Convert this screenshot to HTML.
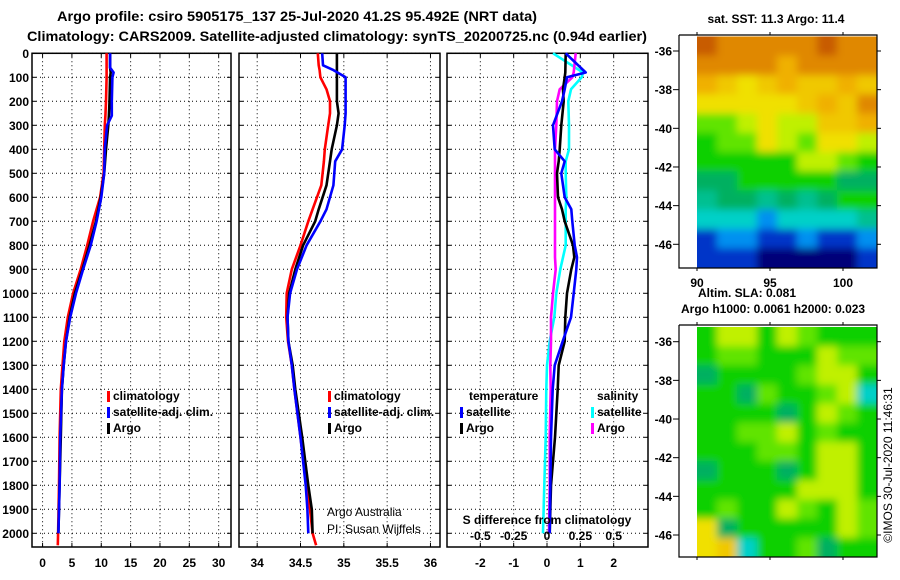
<!DOCTYPE html>
<html><head><meta charset="utf-8">
<style>
html,body{margin:0;padding:0;background:#fff;}
svg{display:block;font-family:"Liberation Sans",Arial,sans-serif;}
.b{font-weight:bold;font-size:12px;}
</style></head>
<body>
<svg id="chart" width="900" height="580" viewBox="0 0 900 580" xmlns="http://www.w3.org/2000/svg">
<defs>
<clipPath id="clipSst"><rect x="697" y="36.5" width="180" height="231"/></clipPath>
<clipPath id="clipSla"><rect x="697" y="327" width="180" height="230"/></clipPath>
<filter id="soft" x="0" y="0" width="1" height="1"><feGaussianBlur stdDeviation="4"/></filter>
</defs>
<text x="297" y="21" text-anchor="middle" font-weight="bold" font-size="14" textLength="480" lengthAdjust="spacingAndGlyphs">Argo profile: csiro 5905175_137 25-Jul-2020 41.2S 95.492E (NRT data)</text>
<text x="337" y="41" text-anchor="middle" font-weight="bold" font-size="14" textLength="620" lengthAdjust="spacingAndGlyphs">Climatology: CARS2009. Satellite-adjusted climatology: synTS_20200725.nc (0.94d earlier)</text>
<g id="plots"></g>
<g id="maps"></g>
<text x="776" y="23" text-anchor="middle" class="b">sat. SST: 11.3  Argo: 11.4</text>
<text x="698" y="297" class="b">Altim. SLA: 0.081</text>
<text x="681" y="313" class="b">Argo h1000: 0.0061 h2000: 0.023</text>
<text transform="translate(892,465) rotate(-90)" text-anchor="middle" font-size="12">©IMOS 30-Jul-2020 11:46:31</text>
</svg>
<script>
// ---------- data ----------
const depthT = [0,60,80,100,200,260,300,400,500,600,700,800,900,1000,1100,1200,1300,1400,1600,1800,2000,2050];
const tempClim = [10.9,10.9,10.9,10.9,10.8,10.7,10.6,10.5,10.4,9.8,8.6,7.6,6.5,5.2,4.3,3.7,3.4,3.1,2.9,2.8,2.65,2.6];
const tempSat  = [11.5,11.5,12.1,11.9,11.8,11.8,11.0,10.6,10.5,10.0,9.2,8.2,6.9,5.7,4.7,4.0,3.6,3.3,3.0,2.9,2.7,null];
const tempArgo = [11.5,11.5,11.6,11.5,11.4,11.3,11.2,10.8,10.5,9.9,9.1,8.0,6.8,5.5,4.6,4.0,3.6,3.3,3.1,2.9,2.7,null];

const depthS = [0,50,70,100,150,200,250,300,400,450,550,650,700,800,900,1000,1100,1200,1300,1400,1600,1800,1900,2000,2050];
const salClim = [34.70,34.71,34.72,34.73,34.80,34.84,34.84,34.82,34.78,34.77,34.74,34.64,34.59,34.50,34.40,34.34,34.335,34.355,34.40,34.43,34.50,34.57,34.61,34.64,34.68];
const salSat  = [34.75,34.76,34.88,35.02,35.02,35.02,35.02,35.01,34.98,34.90,34.88,34.80,34.73,34.57,34.46,34.38,34.35,34.36,34.40,34.43,34.50,34.56,34.58,34.59,null];
const salArgo = [34.92,34.92,34.92,34.92,34.92,34.92,34.94,34.92,34.86,34.84,34.80,34.71,34.67,34.53,34.44,34.37,34.35,34.36,34.41,34.44,34.52,34.59,34.63,34.64,null];

const depthD = [0,80,100,150,200,300,400,450,500,600,650,700,800,850,900,1000,1100,1200,1300,1400,1600,1800,2000];
const dTsat  = [0.56,1.16,0.60,0.53,0.45,0.18,0.23,0.53,0.43,0.53,0.73,0.76,0.83,0.90,0.88,0.80,0.72,0.47,0.23,0.17,0.12,0.10,0.08];
const dTargo = [0.56,0.55,0.53,0.48,0.50,0.43,0.38,0.35,0.30,0.33,0.45,0.53,0.78,0.82,0.73,0.60,0.55,0.53,0.35,0.32,0.24,0.12,0.08];
const dSsat  = [0.045,0.27,0.26,0.18,0.16,0.165,0.165,0.14,0.14,0.145,0.14,0.14,0.14,0.12,0.10,0.07,0.055,0.02,0.0,-0.005,-0.01,-0.02,-0.03];
const dSargo = [0.215,0.20,0.19,0.095,0.075,0.07,0.06,0.06,0.06,0.06,0.06,0.06,0.06,0.06,0.065,0.045,0.03,0.03,0.025,0.028,0.02,0.02,0.015];

const depthTicks = [0,100,200,300,400,500,600,700,800,900,1000,1100,1200,1300,1400,1500,1600,1700,1800,1900,2000];
const tTicks = [0,5,10,15,20,25,30];
const sTicks = [34,34.5,35,35.5,36];
const dTicks = [-2,-1,0,1,2];
const sDiffTicks = [-0.5,-0.25,0,0.25,0.5];

// ---------- helpers ----------
const NS = 'http://www.w3.org/2000/svg';
const plots = document.getElementById('plots');
function mk(tag, attrs, parent){const e=document.createElementNS(NS,tag);for(const k in attrs)e.setAttribute(k,attrs[k]);(parent||plots).appendChild(e);return e;}
const Y0=53.3, YB=547;
function yD(d){return Y0 + d*0.24;}

const panels = [
  {name:'temperature', x0:32, x1:231, vmin:-1.8, vmax:32.1, ticks:tTicks},
  {name:'salinity', x0:239, x1:440, vmin:33.79, vmax:36.11, ticks:sTicks},
  {name:'difference', x0:447, x1:648, vmin:-3.0, vmax:3.03, ticks:dTicks}
];
panels.forEach(p=>{ p.x = v => p.x0 + (v-p.vmin)/(p.vmax-p.vmin)*(p.x1-p.x0); });

panels.forEach((p,i)=>{
  const g = mk('g',{});
  
  
  depthTicks.forEach(d=>{
    const l=mk('line',{x1:p.x0,x2:p.x1,y1:yD(d),y2:yD(d),stroke:'#000','stroke-width':1,'stroke-dasharray':'1,3'},g);
    
    
    mk('line',{x1:p.x0,x2:p.x0+4,y1:yD(d),y2:yD(d),stroke:'#000'},g);
    mk('line',{x1:p.x1-4,x2:p.x1,y1:yD(d),y2:yD(d),stroke:'#000'},g);
  });
  p.ticks.forEach(v=>{
    const x=p.x(v);
    const l=mk('line',{x1:x,x2:x,y1:Y0,y2:YB,stroke:'#000','stroke-width':1,'stroke-dasharray':'1,3'},g);
    
    
    mk('line',{x1:x,x2:x,y1:Y0,y2:Y0+4,stroke:'#000'},g);
    mk('line',{x1:x,x2:x,y1:YB-4,y2:YB,stroke:'#000'},g);
    const t=mk('text',{x:x,y:567,'text-anchor':'middle','class':'b'},g);
    t.textContent=String(v);
    
    
  });
  const fr=mk('rect',{x:p.x0,y:Y0,width:p.x1-p.x0,height:YB-Y0,fill:'none',stroke:'#000','stroke-width':1.5},g);
  
  
});
depthTicks.forEach(d=>{
  const t=mk('text',{x:29,y:yD(d)+4.5,'text-anchor':'end','class':'b'});
  t.textContent=String(d);
  
  
});

function series(p, depths, vals, color, name, scale){
  let dstr='', started=false;
  depths.forEach((d,i)=>{
    const v=vals[i];
    if(v===null||v===undefined){return;}
    const x=p.x(v*(scale||1)), y=yD(d);
    dstr += (started?'L':'M')+x.toFixed(1)+','+y.toFixed(1);
    started=true;
  });
  const e=mk('path',{d:dstr,fill:'none',stroke:color,'stroke-width':2.6,'stroke-linejoin':'round'});
  
  
}
const P1=panels[0],P2=panels[1],P3=panels[2];
series(P1,depthT,tempClim,'#ff0000','temp-climatology-line');
series(P1,depthT,tempArgo,'#000000','temp-argo-line');
series(P1,depthT,tempSat,'#0000ff','temp-satellite-line');
series(P2,depthS,salClim,'#ff0000','sal-climatology-line');
series(P2,depthS,salArgo,'#000000','sal-argo-line');
series(P2,depthS,salSat,'#0000ff','sal-satellite-line');
series(P3,depthD,dSsat,'#00ffff','sdiff-satellite-line',4);
series(P3,depthD,dSargo,'#ff00ff','sdiff-argo-line',4);
series(P3,depthD,dTargo,'#000000','tdiff-argo-line');
series(P3,depthD,dTsat,'#0000ff','tdiff-satellite-line');

function legend(x,y,color,label,name){
  const g=mk('g',{});
  
  
  if(color) mk('rect',{x:x,y:y-9,width:3,height:11,fill:color},g);
  const t=mk('text',{x:x+6,y:y,'class':'b'},g);
  t.textContent=label;
}
legend(107,400,'#ff0000','climatology','legend-climatology-1');
legend(107,416,'#0000ff','satellite-adj. clim.','legend-satellite-1');
legend(107,432,'#000000','Argo','legend-argo-1');
legend(328,400,'#ff0000','climatology','legend-climatology-2');
legend(328,416,'#0000ff','satellite-adj. clim.','legend-satellite-2');
legend(328,432,'#000000','Argo','legend-argo-2');
legend(463,400,null,'temperature','legend-temperature-header');
legend(460,416,'#0000ff','satellite','legend-temp-satellite');
legend(460,432,'#000000','Argo','legend-temp-argo');
legend(591,400,null,'salinity','legend-salinity-header');
legend(591,416,'#00ffff','satellite','legend-sal-satellite');
legend(591,432,'#ff00ff','Argo','legend-sal-argo');
{
 const a=mk('text',{x:327,y:516,'font-size':12}); a.textContent='Argo Australia';
  
 const b=mk('text',{x:327,y:533,'font-size':12}); b.textContent='PI: Susan Wijffels';
  
 const c=mk('text',{x:547,y:524,'text-anchor':'middle','class':'b'}); c.textContent='S difference from climatology';
  
 sDiffTicks.forEach(v=>{
   const t=mk('text',{x:P3.x(v*4),y:540,'text-anchor':'middle','class':'b'}); t.textContent=String(v);
    
 });
}

// ---------- maps ----------
const maps=document.getElementById('maps');
const pal={n:'#000078',b:'#0034c8',l:'#0090f0',c:'#00d0c8',t:'#00b060',g:'#10d000',h:'#60e400',y:'#c0f000',Y:'#f0e000',o:'#f0b000',O:'#e08800',B:'#c85c00',k:'#00c090',q:'#f0c800'};
const sstRows=['BOOOOOBOO','OOOOoOOOO','oqYqoqqoq','YYYYYqoqO','hhyYyyqqo','ghhYyhYYy','gggggyyhg','ttgggggtt','kttktktgg','ccclcccck','bllbblbbl','bbbnnnnnb'];
const slaRows=['gyygyhggg','ghhgggyhh','tgggghyyg','ggthgghyc','ggggtgyhg','gghhyghgg','ggghhgyyg','tgggtgyyg','gggggyyyg','ghggyhgyh','Ytgggggyh','Yqcgghtgg'];
function drawMap(rows,x0,y0,w,h,name,clip){
  const outer=document.createElementNS(NS,'g');maps.appendChild(outer);
  outer.setAttribute('clip-path','url(#'+clip+')');
  const g=document.createElementNS(NS,'g');outer.appendChild(g);
  g.setAttribute('filter','url(#soft)');
  
  
  const nr=rows.length,nc=rows[0].length,cw=w/nc,ch=h/nr;
  rows.forEach((r,i)=>{for(let j=0;j<nc;j++){
    let xx=x0+j*cw, yy=y0+i*ch, ww=cw+0.6, hh=ch+0.6;
    if(j===0){xx-=10;ww+=10;} if(j===nc-1){ww+=10;}
    if(i===0){yy-=10;hh+=10;} if(i===nr-1){hh+=10;}
    mk('rect',{x:xx.toFixed(2),y:yy.toFixed(2),width:ww.toFixed(2),height:hh.toFixed(2),fill:pal[r[j]]},g);
  }});
}
drawMap(sstRows,697,36.5,180,231,'sst-map','clipSst');
drawMap(slaRows,697,327,180,230,'sla-map','clipSla');
function mapAxes(top,bot,lat36,labelsBottom,name){
  const g=document.createElementNS(NS,'g');maps.appendChild(g);
  
  
  mk('polyline',{points:`679,${top} 877,${top} 877,${bot} 679,${bot} 679,${top}`,fill:'none',stroke:'#000','stroke-width':1.2},g);
  const lats=[-36,-38,-40,-42,-44,-46];
  lats.forEach((la,i)=>{
    const y=lat36+i*2*19.33;
    mk('line',{x1:673,x2:679,y1:y,y2:y,stroke:'#000'},g);
    mk('line',{x1:877,x2:881,y1:y,y2:y,stroke:'#000'},g);
    const t=mk('text',{x:672,y:y+4.5,'text-anchor':'end','class':'b'},g);t.textContent=String(la);
  });
  [90,95,100].forEach(lo=>{
    const x=697+(lo-90)*14.6;
    mk('line',{x1:x,x2:x,y1:top-3,y2:top,stroke:'#000'},g);
    mk('line',{x1:x,x2:x,y1:bot,y2:bot+3,stroke:'#000'},g);
    if(labelsBottom){const t=mk('text',{x:x,y:bot+19,'text-anchor':'middle','class':'b'},g);t.textContent=String(lo);}
  });
}
mapAxes(35,268,51,true,'sst-map-axes');
mapAxes(325,557,341.7,false,'sla-map-axes');
</script>
</body></html>
